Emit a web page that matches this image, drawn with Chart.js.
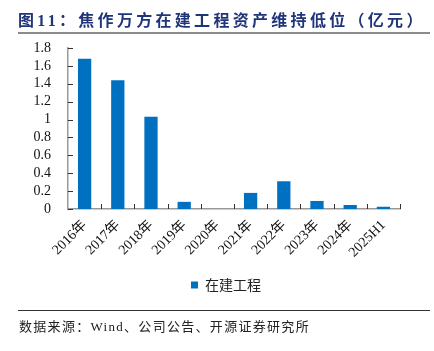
<!DOCTYPE html>
<html>
<head>
<meta charset="utf-8">
<script src="https://cdn.jsdelivr.net/npm/chart.js@4/dist/chart.umd.min.js"></script>
<style>
  body { margin: 0; background: #fff; }
  #wrap { position: relative; width: 434px; height: 351px; }
  #c { position: absolute; left: 0; top: 0; }
  .title { position: absolute; left: 18px; top: 7px; font-family: "Liberation Serif", "Noto Sans CJK SC"; font-weight: bold; font-size: 16px; letter-spacing: 3.3px; color: #1f3479; white-space: nowrap; }
  .rule1 { position: absolute; left: 18px; top: 32px; width: 412px; height: 2px; background: #8c8c8c; }
  .rule2 { position: absolute; left: 18px; top: 310px; width: 412px; height: 1px; background: #333; }
  .src { position: absolute; left: 19px; top: 316px; font-family: "Liberation Serif", "Noto Sans CJK SC"; font-size: 13px; letter-spacing: 1.3px; color: #222; white-space: nowrap; }
</style>
</head>
<body>
<div id="wrap">
  <canvas id="c" width="434" height="351"></canvas>
  <div class="title">图11：焦作万方在建工程资产维持低位（亿元）</div>
  <div class="rule1"></div>
  <div class="rule2"></div>
  <div class="src">数据来源：Wind、公司公告、开源证券研究所</div>
</div>
<script>
// data
var years = ["2016年", "2017年", "2018年", "2019年", "2020年", "2021年", "2022年", "2023年", "2024年", "2025H1"];
var cip = [1.68, 1.44, 1.03, 0.08, 0, 0.18, 0.31, 0.09, 0.045, 0.025];
var seriesName = "在建工程";

//inward tick marks like the excel original
var innerTicks = {
    id: "innerTicks",
    afterLayout: function(chart){
        //legend in the original is centred a bit to the right
        chart.legend.left = 18;
        chart.legend.right = 434;
    },
    afterDraw: function(chart){
        var ctx = chart.ctx;
        var xs = chart.scales.x;
        var ys = chart.scales.y;
        var area = chart.chartArea;
        ctx.save();
        ctx.strokeStyle = "#333";
        ctx.lineWidth = 1;
        ctx.beginPath();
        for(var i = 0; i < ys.ticks.length; i++){
            var y = Math.round(ys.getPixelForTick(i)) + 0.5;
            ctx.moveTo(area.left, y);
            ctx.lineTo(area.left + 5, y);
        }
        var step = xs.getPixelForValue(1) - xs.getPixelForValue(0);
        for(var j = 0; j < years.length; j++){
            var x = Math.round(xs.getPixelForValue(j) + step / 2) + 0.5;
            ctx.moveTo(x, area.bottom);
            ctx.lineTo(x, area.bottom - 5);
        }
        ctx.stroke();
        ctx.restore();
    }
};

new Chart(document.getElementById("c"), {
    type: "bar",
    data: {
        labels: years,
        datasets: [{
            label: seriesName,
            data: cip,
            backgroundColor: "#0070c0",
            categoryPercentage: 0.8,
            barPercentage: 0.5
        }]
    },
    options: {
        responsive: false,
        animation: false,
        layout: { padding: { left: 0, right: 34, top: 48, bottom: 49 } },
        plugins: {
            legend: {
                position: "bottom",
                labels: {
                    boxWidth: 7,
                    boxHeight: 7,
                    padding: 10,
                    color: "#222",
                    font: { family: "'Noto Sans CJK SC'", size: 14 }
                }
            },
            tooltip: { enabled: false }
        },
        scales: {
            x: {
                grid: { display: false },
                border: { color: "#999", width: 1.5 },
                ticks: {
                    minRotation: 45,
                    maxRotation: 45,
                    padding: 0,
                    color: "#111",
                    font: { family: "'Liberation Serif', 'Noto Sans CJK SC'", size: 14 }
                },
                afterFit: function(scale){ scale.height = 59; }
            },
            y: {
                min: 0,
                max: 1.8,
                grid: { display: false },
                border: { color: "#999", width: 1.5 },
                ticks: {
                    stepSize: 0.2,
                    autoSkip: false,
                    padding: 9,
                    color: "#111",
                    font: { family: "'Liberation Serif'", size: 14 },
                    callback: function(v){ return Math.round(v * 10) / 10; }
                },
                afterFit: function(scale){ scale.width = 68; }
            }
        }
    },
    plugins: [innerTicks]
});
</script>
</body>
</html>
